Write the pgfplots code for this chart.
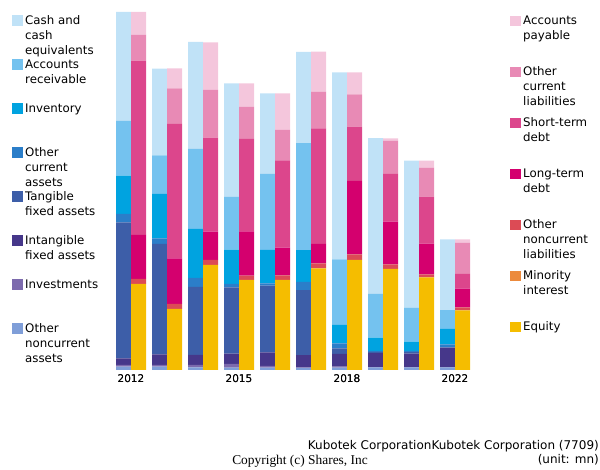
\documentclass[border=0pt]{standalone}
\usepackage{pgfplots}
\pgfplotsset{compat=1.18}
\usepackage{pgfplotstable}
\usepackage{fontspec}
\setmainfont{DejaVu Sans}
\newfontfamily\seriffont{Liberation Serif}

\definecolor{cCash}{RGB}{192,226,247}
\definecolor{cAR}{RGB}{116,194,239}
\definecolor{cInvt}{RGB}{0,163,224}
\definecolor{cOCA}{RGB}{43,126,201}
\definecolor{cTang}{RGB}{61,94,168}
\definecolor{cIntang}{RGB}{70,55,138}
\definecolor{cInv}{RGB}{124,106,173}
\definecolor{cONA}{RGB}{127,158,216}
\definecolor{cAP}{RGB}{244,198,220}
\definecolor{cOCL}{RGB}{232,138,181}
\definecolor{cSTD}{RGB}{220,70,140}
\definecolor{cLTD}{RGB}{212,0,110}
\definecolor{cONL}{RGB}{220,75,85}
\definecolor{cMin}{RGB}{236,138,60}
\definecolor{cEq}{RGB}{245,189,0}

\pgfplotstableread{
x ona inv intang tang oca invt ar cash
0 3.3 1.7 6.7 136 8.3 38.3 54.7 109
1 3.3 1.7 10.7 110.3 5.7 44.3 38.7 86.7
2 2.7 2.3 10 68 9 49 80 107
3 2.3 3.7 10.3 66.4 3.3 34.3 52.7 113.7
4 2.3 1.7 13.7 66.6 2.4 33.3 76 80.7
5 2 0.5 12.3 65 8.3 31.7 107 91.3
6 2.3 1 12.7 5.7 5 18.3 65.7 187
7 2.5 0.3 14 1.3 1 13.3 43.7 155.7
8 2.5 0.3 13.6 1.4 1.3 9.3 34 147
9 2.7 0 19.6 0.3 3 15.6 18.7 70.7
}\assets

\pgfplotstableread{
x eq mino onl ltd std ocl ap
0 86 0 5 44 174.3 25.7 23
1 61 0 5 45.7 134.3 35.7 20
2 105 0 5 28.3 94 47.7 47.7
3 90 0 4.3 44.3 92.6 32 23.4
4 90 0 4.7 27.6 87.4 30.3 36.7
5 101.7 0 5 19.3 115.7 36.6 40
6 110 0 5.7 73.3 54.3 32.4 22
7 101 0 4.7 42.6 47.7 33.3 2.4
8 92.7 0 3 30.6 47 29 7
9 59.7 0 3 18.6 14.7 31.3 3.4
}\liabs

\newcommand{\lgA}[1]{\parbox[t][44pt][t]{88pt}{\raggedright\fontsize{11.8}{15}\selectfont\strut #1}}
\newcommand{\lgB}[1]{\parbox[t][51pt][t]{78pt}{\raggedright\fontsize{11.8}{15}\selectfont\strut #1}}

\pgfplotsset{
  base/.style={
    scale only axis, width=367.2pt, height=365pt,
    at={(109.4pt,100pt)}, anchor=south west,
    xmin=-0.6, xmax=9.6, ymin=0, ymax=365,
    ybar stacked, bar width=15pt,
    axis line style={draw=none},
    ytick=\empty, major tick length=0pt,
    xtick={0,3,6,9}, xticklabels={2012,2015,2018,2022},
    /pgf/number format/assume math mode=true,
    xticklabel style={font=\fontsize{10.5}{12}\selectfont, yshift=-1pt},
    clip=false,
    reverse legend,
    legend cell align=left,
  },
}

\begin{document}
\begin{tikzpicture}[x=1pt,y=1pt]
\useasboundingbox (0,0) rectangle (600,470);
\begin{axis}[base, bar shift=-7.5pt,
  legend image code/.code={\fill[#1] (0pt,10pt) rectangle (10.5pt,20.5pt);},
  legend style={at={(-0.2652,0.976)}, anchor=north west, draw=none, fill=none,
    inner sep=0pt, row sep=0pt, column sep=2.5pt, nodes={inner sep=0pt, text depth=, text height=}},
]
\addplot[fill=cONA, draw=none] table[x=x,y=ona]{\assets};
\addlegendentry{\lgA{Other\newline noncurrent\newline assets}}
\addplot[fill=cInv, draw=none] table[x=x,y=inv]{\assets};
\addlegendentry{\lgA{Investments}}
\addplot[fill=cIntang, draw=none] table[x=x,y=intang]{\assets};
\addlegendentry{\lgA{Intangible\newline fixed assets}}
\addplot[fill=cTang, draw=none] table[x=x,y=tang]{\assets};
\addlegendentry{\lgA{Tangible\newline fixed assets}}
\addplot[fill=cOCA, draw=none] table[x=x,y=oca]{\assets};
\addlegendentry{\lgA{Other\newline current\newline assets}}
\addplot[fill=cInvt, draw=none] table[x=x,y=invt]{\assets};
\addlegendentry{\lgA{Inventory}}
\addplot[fill=cAR, draw=none] table[x=x,y=ar]{\assets};
\addlegendentry{\lgA{Accounts\newline receivable}}
\addplot[fill=cCash, draw=none] table[x=x,y=cash]{\assets};
\addlegendentry{\lgA{Cash and\newline cash\newline equivalents}}
\end{axis}
\begin{axis}[base, bar shift=7.5pt,
  legend image code/.code={\fill[#1] (0pt,13.5pt) rectangle (10.5pt,24pt);},
  legend style={at={(1.0910,0.975)}, anchor=north west, draw=none, fill=none,
    inner sep=0pt, row sep=0pt, column sep=2.5pt, nodes={inner sep=0pt, text depth=, text height=}},
]
\addplot[fill=cEq, draw=none] table[x=x,y=eq]{\liabs};
\addlegendentry{\lgB{Equity}}
\addplot[fill=cMin, draw=none] table[x=x,y=mino]{\liabs};
\addlegendentry{\lgB{Minority\newline interest}}
\addplot[fill=cONL, draw=none] table[x=x,y=onl]{\liabs};
\addlegendentry{\lgB{Other\newline noncurrent\newline liabilities}}
\addplot[fill=cLTD, draw=none] table[x=x,y=ltd]{\liabs};
\addlegendentry{\lgB{Long-term\newline debt}}
\addplot[fill=cSTD, draw=none] table[x=x,y=std]{\liabs};
\addlegendentry{\lgB{Short-term\newline debt}}
\addplot[fill=cOCL, draw=none] table[x=x,y=ocl]{\liabs};
\addlegendentry{\lgB{Other\newline current\newline liabilities}}
\addplot[fill=cAP, draw=none] table[x=x,y=ap]{\liabs};
\addlegendentry{\lgB{Accounts\newline payable}}
\end{axis}
\node[anchor=base east, inner sep=0pt, font=\fontsize{12}{14}\selectfont] at (599,20) {Kubotek CorporationKubotek Corporation (7709)};
\node[anchor=base east, inner sep=0pt, font=\fontsize{12}{14}\selectfont] at (599,6) {(unit: mn)};
\node[anchor=base, inner sep=0pt, font=\seriffont\fontsize{13.4}{15}\selectfont] at (300,5) {Copyright (c) Shares, Inc};
\end{tikzpicture}
\end{document}
